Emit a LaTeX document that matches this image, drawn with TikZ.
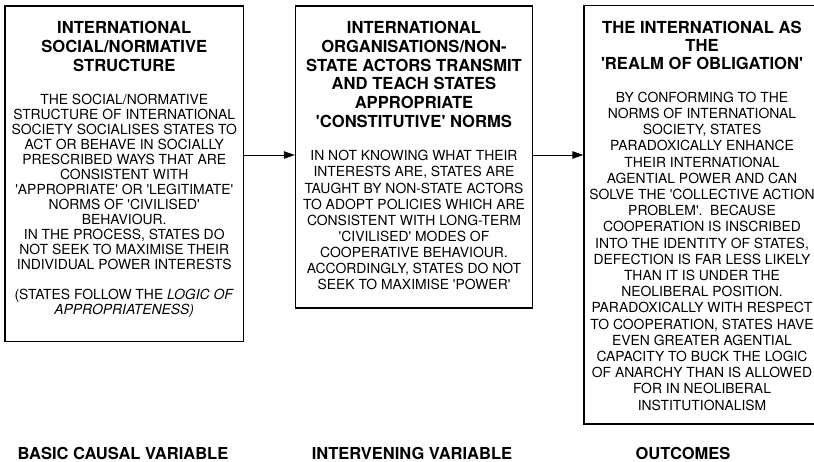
\documentclass[tikz,border=0pt]{standalone}
\usepackage{fontspec}
\setmainfont{TeX Gyre Heros}[Ligatures=TeXOff]
\usetikzlibrary{arrows.meta,positioning}

\begin{document}
\begin{tikzpicture}[x=1pt, y=-1pt,
    box/.style={draw, rectangle, line width=1.4pt, inner sep=0pt},
    heading/.style={align=center, inner sep=0pt, font=\fontsize{16.6}{#1}\selectfont\bfseries},
    body/.style={align=center, inner sep=0pt, font=\fontsize{13.9}{#1}\selectfont},
    caption/.style={anchor=base, inner sep=0pt, font=\fontsize{16.5}{19}\selectfont\bfseries},
    flow/.style={-{Triangle[length=11pt,width=7.5pt]}, line width=0.9pt}]
    \useasboundingbox (0,0) rectangle (814,462);
    \node[box, minimum width=238.5pt, minimum height=335.5pt] (structure) at (124.25,173.75) {};
    \node[box, minimum width=237pt, minimum height=302pt] (actors) at (414,157) {};
    \node[box, minimum width=244pt, minimum height=418.5pt] (realm) at (706,214.75) {};

    \node[heading=19, below=16pt of structure.north] (structure-head) {INTERNATIONAL\\SOCIAL/NORMATIVE\\STRUCTURE};
    \node[body=15, below=89pt of structure.north] (structure-text) {THE SOCIAL/NORMATIVE\\
        STRUCTURE OF INTERNATIONAL\\SOCIETY SOCIALISES STATES TO\\ACT OR BEHAVE IN SOCIALLY\\
        PRESCRIBED WAYS THAT ARE\\CONSISTENT WITH\\'APPROPRIATE' OR 'LEGITIMATE'\\
        NORMS OF 'CIVILISED'\\BEHAVIOUR.\\IN THE PROCESS, STATES DO\\
        NOT SEEK TO MAXIMISE THEIR\\INDIVIDUAL POWER INTERESTS\\[15pt]
        (STATES FOLLOW THE \textit{LOGIC OF}\\\textit{APPROPRIATENESS)}};

    \node[heading=18.7, below=16pt of actors.north] (actors-head) {INTERNATIONAL\\ORGANISATIONS/NON-\\
        STATE ACTORS TRANSMIT\\AND TEACH STATES\\APPROPRIATE\\'CONSTITUTIVE' NORMS};
    \node[body=16.1, below=145pt of actors.north] (actors-text) {IN NOT KNOWING WHAT THEIR\\
        INTERESTS ARE, STATES ARE\\TAUGHT BY NON-STATE ACTORS\\TO ADOPT POLICIES WHICH ARE\\
        CONSISTENT WITH LONG-TERM\\'CIVILISED' MODES OF\\COOPERATIVE BEHAVIOUR.\\
        ACCORDINGLY, STATES DO NOT\\SEEK TO MAXIMISE 'POWER'};

    \node[heading=18, below=16pt of realm.north, xshift=-4pt] (realm-head) {THE INTERNATIONAL AS\\THE\\'REALM OF OBLIGATION'};
    \node[body=16.2, below=87pt of realm.north, xshift=-4pt] (realm-text) {BY CONFORMING TO THE\\
        NORMS OF INTERNATIONAL\\SOCIETY, STATES\\PARADOXICALLY ENHANCE\\THEIR INTERNATIONAL\\
        AGENTIAL POWER AND CAN\\SOLVE THE 'COLLECTIVE ACTION\\PROBLEM'.\ \ BECAUSE\\
        COOPERATION IS INSCRIBED\\INTO THE IDENTITY OF STATES,\\DEFECTION IS FAR LESS LIKELY\\
        THAN IT IS UNDER THE\\NEOLIBERAL POSITION.\\PARADOXICALLY WITH RESPECT\\
        TO COOPERATION, STATES HAVE\\EVEN GREATER AGENTIAL\\CAPACITY TO BUCK THE LOGIC\\
        OF ANARCHY THAN IS ALLOWED\\FOR IN NEOLIBERAL\\INSTITUTIONALISM};

    \coordinate (level) at (0,155);
    \draw[flow] (structure.east |- level) -- (actors.west |- level);
    \draw[flow] (actors.east |- level) -- (realm.west |- level);

    \node[caption] (cause) at (123,459) {BASIC CAUSAL VARIABLE};
    \node[caption] (intervening) at (412,459) {INTERVENING VARIABLE};
    \node[caption] (outcome) at (683,459) {OUTCOMES};
\end{tikzpicture}
\end{document}
